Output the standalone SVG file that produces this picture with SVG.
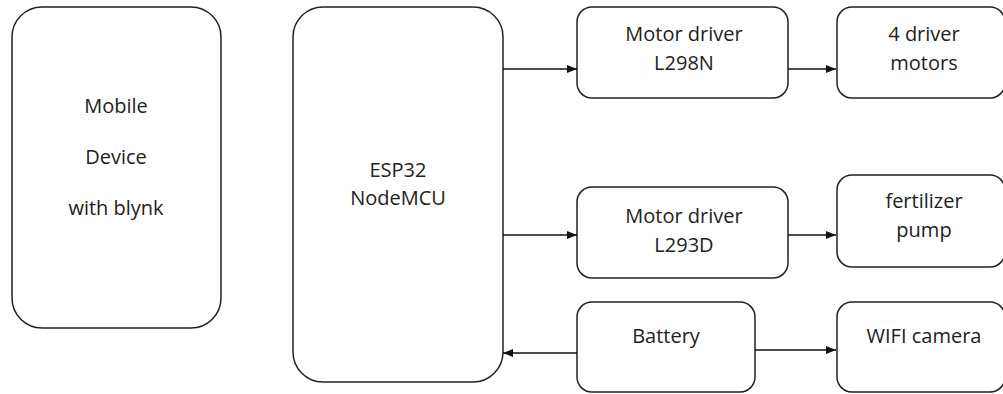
<svg xmlns="http://www.w3.org/2000/svg" width="1003" height="394" viewBox="0 0 1003 394">
<defs>
<style>
.box{fill:#fff;stroke:#222;stroke-width:1.5}
.t{font-family:"Open Sans","Noto Sans",sans-serif;font-size:20px;fill:#222;text-anchor:middle}
.c{fill:none;stroke:#111;stroke-width:1.5}
</style>
<marker id="ah" markerWidth="10" markerHeight="8" refX="10" refY="4" orient="auto" markerUnits="userSpaceOnUse">
<path d="M0,0 L10,4 L0,8 Z" fill="#111"/>
</marker>
</defs>
<rect width="1003" height="394" fill="#fff"/>
<g id="mobile">
<rect class="box" x="12" y="7" width="209" height="321" rx="30"/>
<text class="t" x="116" y="113">Mobile</text>
<text class="t" x="116" y="164">Device</text>
<text class="t" x="116" y="215">with blynk</text>
</g>
<g id="esp32">
<rect class="box" x="293" y="7" width="210" height="375" rx="30"/>
<text class="t" x="398" y="177">ESP32</text>
<text class="t" x="398" y="205">NodeMCU</text>
</g>
<g id="l298n">
<rect class="box" x="577" y="7" width="211" height="91" rx="15"/>
<text class="t" x="684" y="41">Motor driver</text>
<text class="t" x="684" y="70">L298N</text>
</g>
<g id="motors">
<rect class="box" x="837" y="7" width="168" height="91" rx="15"/>
<text class="t" x="924" y="41">4 driver</text>
<text class="t" x="924" y="70">motors</text>
</g>
<g id="l293d">
<rect class="box" x="577" y="187" width="211" height="91" rx="15"/>
<text class="t" x="684" y="223">Motor driver</text>
<text class="t" x="684" y="252">L293D</text>
</g>
<g id="pump">
<rect class="box" x="837" y="175" width="168" height="92" rx="15"/>
<text class="t" x="924" y="208">fertilizer</text>
<text class="t" x="924" y="237">pump</text>
</g>
<g id="battery">
<rect class="box" x="577" y="302" width="178" height="90" rx="15"/>
<text class="t" x="666" y="343">Battery</text>
</g>
<g id="camera">
<rect class="box" x="837" y="302" width="168" height="90" rx="15"/>
<text class="t" x="924" y="343">WIFI camera</text>
</g>
<g id="connectors">
<line class="c" x1="503" y1="69" x2="577" y2="69" marker-end="url(#ah)"/>
<line class="c" x1="788" y1="69" x2="836" y2="69" marker-end="url(#ah)"/>
<line class="c" x1="503" y1="235" x2="577" y2="235" marker-end="url(#ah)"/>
<line class="c" x1="788" y1="235" x2="836" y2="235" marker-end="url(#ah)"/>
<line class="c" x1="577" y1="353" x2="503" y2="353" marker-end="url(#ah)"/>
<line class="c" x1="755" y1="350" x2="836" y2="350" marker-end="url(#ah)"/>
</g>
</svg>
